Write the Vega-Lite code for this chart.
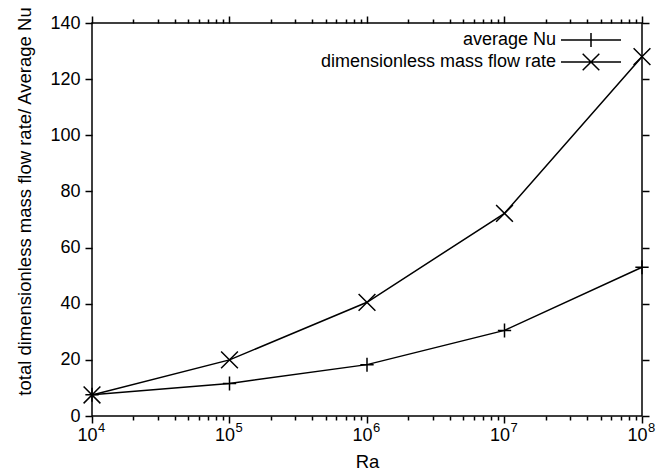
{
  "$schema": "https://vega.github.io/schema/vega-lite/v6.json",
  "width": 550,
  "height": 393,
  "autosize": "none",
  "padding": {"left": 92, "top": 23, "right": 29, "bottom": 56},
  "background": "white",
  "config": {
    "view": {"stroke": "black", "strokeWidth": 1.5},
    "font": "Liberation Sans",
    "axis": {"grid": false, "domain": false, "labelFont": "Liberation Sans", "labelFontSize": 18, "labelColor": "black", "titleFont": "Liberation Sans", "titleFontSize": 18.5, "titleFontWeight": "normal", "titleColor": "black", "tickColor": "black", "tickWidth": 1.5, "labelFlush": false, "labelOverlap": false}
  },
  "data": {
    "values": [
      {"Ra": 10000, "series": "average Nu", "value": 7.6},
      {"Ra": 100000, "series": "average Nu", "value": 11.6},
      {"Ra": 1000000, "series": "average Nu", "value": 18.3},
      {"Ra": 10000000, "series": "average Nu", "value": 30.5},
      {"Ra": 100000000, "series": "average Nu", "value": 53},
      {"Ra": 10000, "series": "dimensionless mass flow rate", "value": 7.5},
      {"Ra": 100000, "series": "dimensionless mass flow rate", "value": 20},
      {"Ra": 1000000, "series": "dimensionless mass flow rate", "value": 40.5},
      {"Ra": 10000000, "series": "dimensionless mass flow rate", "value": 72.2},
      {"Ra": 100000000, "series": "dimensionless mass flow rate", "value": 128}
    ]
  },
  "resolve": {"axis": {"x": "independent", "y": "independent"}},
  "layer": [
    {
      "mark": {"type": "line", "strokeWidth": 1.5, "clip": false},
      "encoding": {
        "x": {"field": "Ra", "type": "quantitative",
          "scale": {"type": "log", "domain": [10000, 100000000], "nice": false},
          "axis": {"orient": "bottom", "values": [10000, 100000, 1000000, 10000000, 100000000], "ticks": false, "labelPadding": 10, "labelOffset": -5,
            "labelExpr": "'10'",
            "title": "Ra", "titleX": 275, "titleY": 51, "titleBaseline": "alphabetic", "titleAlign": "center"}},
        "y": {"field": "value", "type": "quantitative",
          "scale": {"domain": [0, 140], "nice": false, "zero": true},
          "axis": {"orient": "left", "values": [0, 20, 40, 60, 80, 100, 120, 140], "ticks": false, "labelPadding": 12,
            "title": "total dimensionless mass flow rate/ Average Nu", "titleX": -62, "titleY": 178, "titleAngle": -90, "titleBaseline": "alphabetic", "titleAlign": "center"}},
        "color": {"field": "series", "type": "nominal",
          "scale": {"domain": ["average Nu", "dimensionless mass flow rate"], "range": ["black", "black"]},
          "legend": {"title": null, "orient": "none", "legendX": 490, "legendY": 8, "direction": "vertical", "padding": 0,
            "labelAlign": "right", "labelOffset": -44, "labelFont": "Liberation Sans", "labelFontSize": 18, "labelColor": "black", "labelLimit": 500,
            "symbolSize": 100, "symbolStrokeWidth": 1.5, "rowPadding": 0, "symbolType": "M-6,0L6,0",
            "encode": {"symbols": {"update": {
              "shape": {"signal": "datum.value === 'average Nu' ? 'M-6,0L6,0M0,-1.4L0,1.4' : 'M-6,0L6,0M-1.66,-1.66L1.66,1.66M-1.66,1.66L1.66,-1.66'"},
              "fill": {"value": "transparent"}, "stroke": {"value": "black"}, "strokeWidth": {"value": 1.5}, "opacity": {"value": 1}}}}}}
      }
    },
    {
      "transform": [{"filter": "datum.series === 'average Nu'"}],
      "mark": {"type": "point", "filled": false, "size": 196, "strokeWidth": 1.5, "color": "black", "opacity": 1, "clip": false, "shape": "M-0.95,0L0.95,0M0,-1L0,1"},
      "encoding": {
        "x": {"field": "Ra", "type": "quantitative",
          "axis": {"orient": "bottom", "values": [10000, 100000, 1000000, 10000000, 100000000], "labelExpr": "' '", "ticks": true, "tickSize": 7, "title": null}},
        "y": {"field": "value", "type": "quantitative",
          "axis": {"orient": "left", "values": [0, 20, 40, 60, 80, 100, 120, 140], "labelExpr": "' '", "ticks": true, "tickSize": 7, "title": null}}
      }
    },
    {
      "transform": [{"filter": "datum.series === 'dimensionless mass flow rate'"}],
      "mark": {"type": "point", "filled": false, "size": 196, "strokeWidth": 1.5, "color": "black", "opacity": 1, "clip": false, "shape": "M-1.2,-1.2L1.2,1.2M-1.2,1.2L1.2,-1.2"},
      "encoding": {
        "x": {"field": "Ra", "type": "quantitative",
          "axis": {"orient": "top", "values": [10000, 100000, 1000000, 10000000, 100000000], "labelExpr": "' '", "ticks": true, "tickSize": 7, "title": null}},
        "y": {"field": "value", "type": "quantitative",
          "axis": {"orient": "right", "values": [0, 20, 40, 60, 80, 100, 120, 140], "labelExpr": "' '", "ticks": true, "tickSize": 7, "title": null}}
      }
    },
    {
      "mark": {"type": "point", "opacity": 0},
      "encoding": {
        "x": {"field": "Ra", "type": "quantitative",
          "axis": {"orient": "bottom", "values": [20000, 30000, 40000, 50000, 60000, 70000, 80000, 90000, 200000, 300000, 400000, 500000, 600000, 700000, 800000, 900000, 2000000, 3000000, 4000000, 5000000, 6000000, 7000000, 8000000, 9000000, 20000000, 30000000, 40000000, 50000000, 60000000, 70000000, 80000000, 90000000], "labelExpr": "' '", "ticks": true, "tickSize": 4, "title": null}},
        "y": {"field": "value", "type": "quantitative", "axis": null}
      }
    },
    {
      "mark": {"type": "point", "opacity": 0},
      "encoding": {
        "x": {"field": "Ra", "type": "quantitative",
          "axis": {"orient": "top", "values": [20000, 30000, 40000, 50000, 60000, 70000, 80000, 90000, 200000, 300000, 400000, 500000, 600000, 700000, 800000, 900000, 2000000, 3000000, 4000000, 5000000, 6000000, 7000000, 8000000, 9000000, 20000000, 30000000, 40000000, 50000000, 60000000, 70000000, 80000000, 90000000], "labelExpr": "' '", "ticks": true, "tickSize": 4, "title": null}},
        "y": {"field": "value", "type": "quantitative", "axis": null}
      }
    },
    {
      "mark": {"type": "point", "opacity": 0},
      "encoding": {
        "x": {"field": "Ra", "type": "quantitative",
          "axis": {"orient": "bottom", "values": [10000, 100000, 1000000, 10000000, 100000000], "ticks": false, "labelPadding": 5, "labelOffset": 5.5, "labelAlign": "left", "labelFontSize": 13,
            "labelExpr": "'' + round(log(datum.value)/LN10)", "title": null}},
        "y": {"field": "value", "type": "quantitative", "axis": null}
      }
    }
  ]
}
